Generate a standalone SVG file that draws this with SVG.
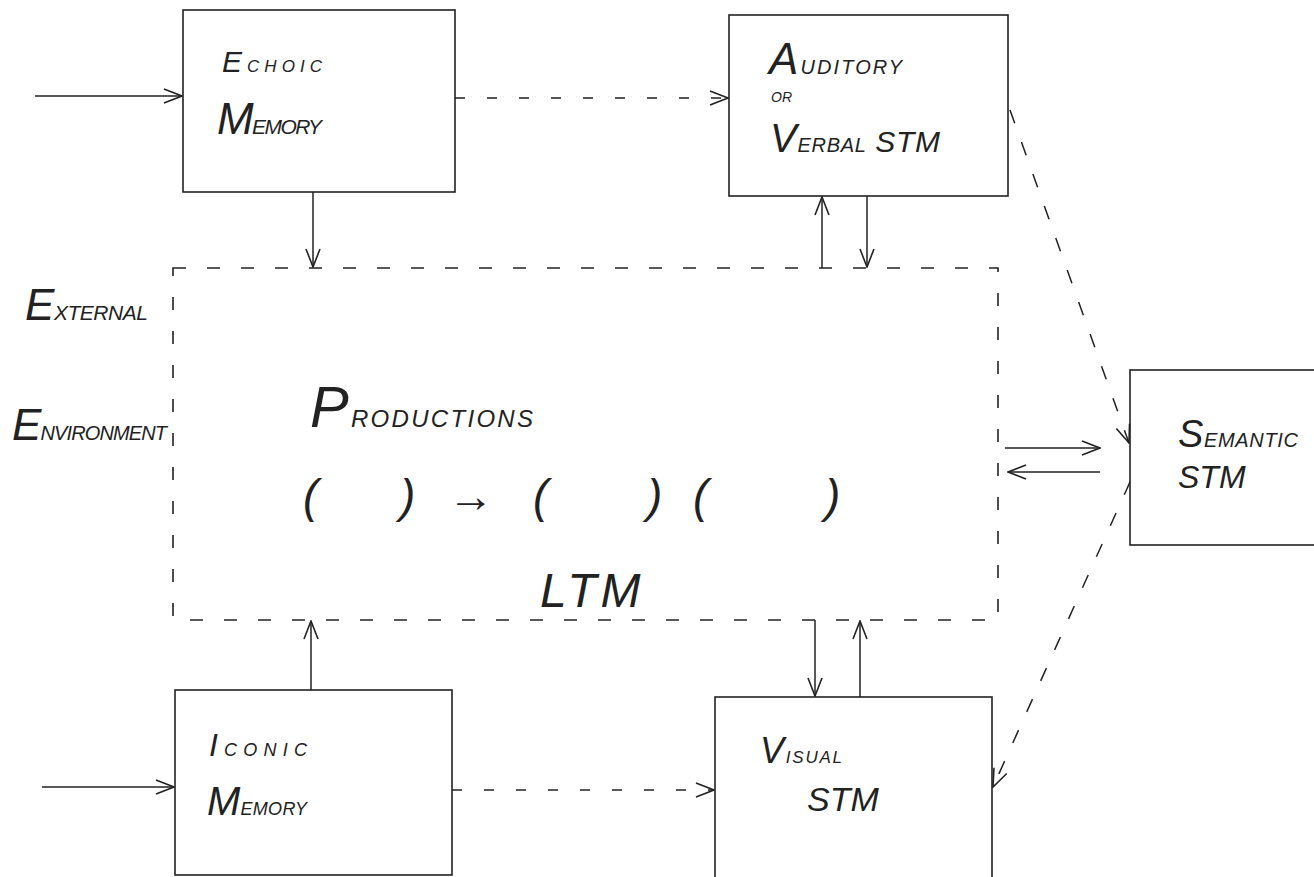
<svg xmlns="http://www.w3.org/2000/svg" width="1314" height="877" viewBox="0 0 1314 877">
<style>
.bx{fill:none;stroke:#222;stroke-width:1.6}
.ln{fill:none;stroke:#222;stroke-width:1.5}
.ds{stroke-dasharray:10 22}
.dl{stroke-dasharray:14 20}
.lbl{font-family:"Liberation Sans",Arial,sans-serif;font-style:italic;font-variant:small-caps;fill:#222}
.big{font-variant:normal}
</style>
<defs>
<marker id="ah" viewBox="0 0 20 16" refX="19" refY="8" markerWidth="20" markerHeight="16" markerUnits="userSpaceOnUse" orient="auto">
<path d="M1,1 L19,8 L1,15" fill="none" stroke="#222" stroke-width="1.6" stroke-dasharray="none"/>
</marker>
</defs>
<rect width="1314" height="877" fill="#fff"/>

<g id="ltm">
<rect x="173" y="268" width="825" height="352" class="bx" stroke-dasharray="13 21"/>
<text class="lbl" x="310" y="427" textLength="223"><tspan font-size="58" class="big">P</tspan><tspan font-size="34">roductions</tspan></text>
<text class="lbl" font-size="46" y="512"><tspan x="303">(</tspan><tspan x="400">)</tspan><tspan x="448">→</tspan><tspan x="533">(</tspan><tspan x="647">)</tspan><tspan x="693">(</tspan><tspan x="825">)</tspan></text>
<text class="lbl big" x="540" y="607" font-size="48" letter-spacing="4">LTM</text>
</g>

<g id="external">
<text class="lbl" x="25" y="320" textLength="123"><tspan font-size="44" class="big">E</tspan><tspan font-size="30">xternal</tspan></text>
<text class="lbl" x="12" y="440" textLength="155"><tspan font-size="44" class="big">E</tspan><tspan font-size="28">nvironment</tspan></text>
</g>

<g id="echoic">
<rect x="183" y="10" width="272" height="182" class="bx"/>
<text class="lbl" x="222" y="72" textLength="100"><tspan font-size="30" class="big">E</tspan><tspan font-size="24">choic</tspan></text>
<text class="lbl" x="217" y="134" textLength="105"><tspan font-size="44" class="big">M</tspan><tspan font-size="30">emory</tspan></text>
</g>

<g id="auditory">
<rect x="729" y="15" width="279" height="181" class="bx"/>
<text class="lbl" x="769" y="74" textLength="133"><tspan font-size="44" class="big">A</tspan><tspan font-size="28">uditory</tspan></text>
<text class="lbl" x="771" y="102" font-size="20">or</text>
<text class="lbl" x="770" y="152" textLength="170"><tspan font-size="40" class="big">V</tspan><tspan font-size="28">erbal </tspan><tspan font-size="30" class="big">STM</tspan></text>
</g>

<g id="semantic">
<rect x="1130" y="370" width="200" height="175" class="bx"/>
<text class="lbl" x="1178" y="447" textLength="120"><tspan font-size="38" class="big">S</tspan><tspan font-size="28">emantic</tspan></text>
<text class="lbl big" x="1178" y="488" font-size="32">STM</text>
</g>

<g id="iconic">
<rect x="175" y="690" width="277" height="185" class="bx"/>
<text class="lbl" x="209" y="756" textLength="98"><tspan font-size="32" class="big">I</tspan><tspan font-size="26">conic</tspan></text>
<text class="lbl" x="207" y="815" textLength="100"><tspan font-size="40" class="big">M</tspan><tspan font-size="26">emory</tspan></text>
</g>

<g id="visual">
<rect x="715" y="697" width="277" height="190" class="bx"/>
<text class="lbl" x="760" y="763" textLength="82"><tspan font-size="36" class="big">V</tspan><tspan font-size="24">isual</tspan></text>
<text class="lbl big" x="807" y="811" font-size="34">STM</text>
</g>

<g id="connectors">
<line x1="35" y1="96" x2="182" y2="96" class="ln" marker-end="url(#ah)"/>
<line x1="455" y1="98" x2="728" y2="98" class="ln ds" marker-end="url(#ah)"/>
<line x1="313" y1="192" x2="313" y2="267" class="ln" marker-end="url(#ah)"/>
<line x1="822" y1="268" x2="822" y2="197" class="ln" marker-end="url(#ah)"/>
<line x1="867" y1="196" x2="867" y2="267" class="ln" marker-end="url(#ah)"/>
<line x1="1005" y1="448" x2="1100" y2="448" class="ln" marker-end="url(#ah)"/>
<line x1="1100" y1="472" x2="1008" y2="472" class="ln" marker-end="url(#ah)"/>
<line x1="1010" y1="110" x2="1129" y2="443" class="ln dl" marker-end="url(#ah)"/>
<line x1="1130" y1="482" x2="993" y2="787" class="ln dl" marker-end="url(#ah)"/>
<line x1="815" y1="620" x2="815" y2="696" class="ln" marker-end="url(#ah)"/>
<line x1="860" y1="697" x2="860" y2="621" class="ln" marker-end="url(#ah)"/>
<line x1="311" y1="690" x2="311" y2="621" class="ln" marker-end="url(#ah)"/>
<line x1="42" y1="787" x2="174" y2="787" class="ln" marker-end="url(#ah)"/>
<line x1="452" y1="790" x2="714" y2="790" class="ln ds" marker-end="url(#ah)"/>
</g>
</svg>
